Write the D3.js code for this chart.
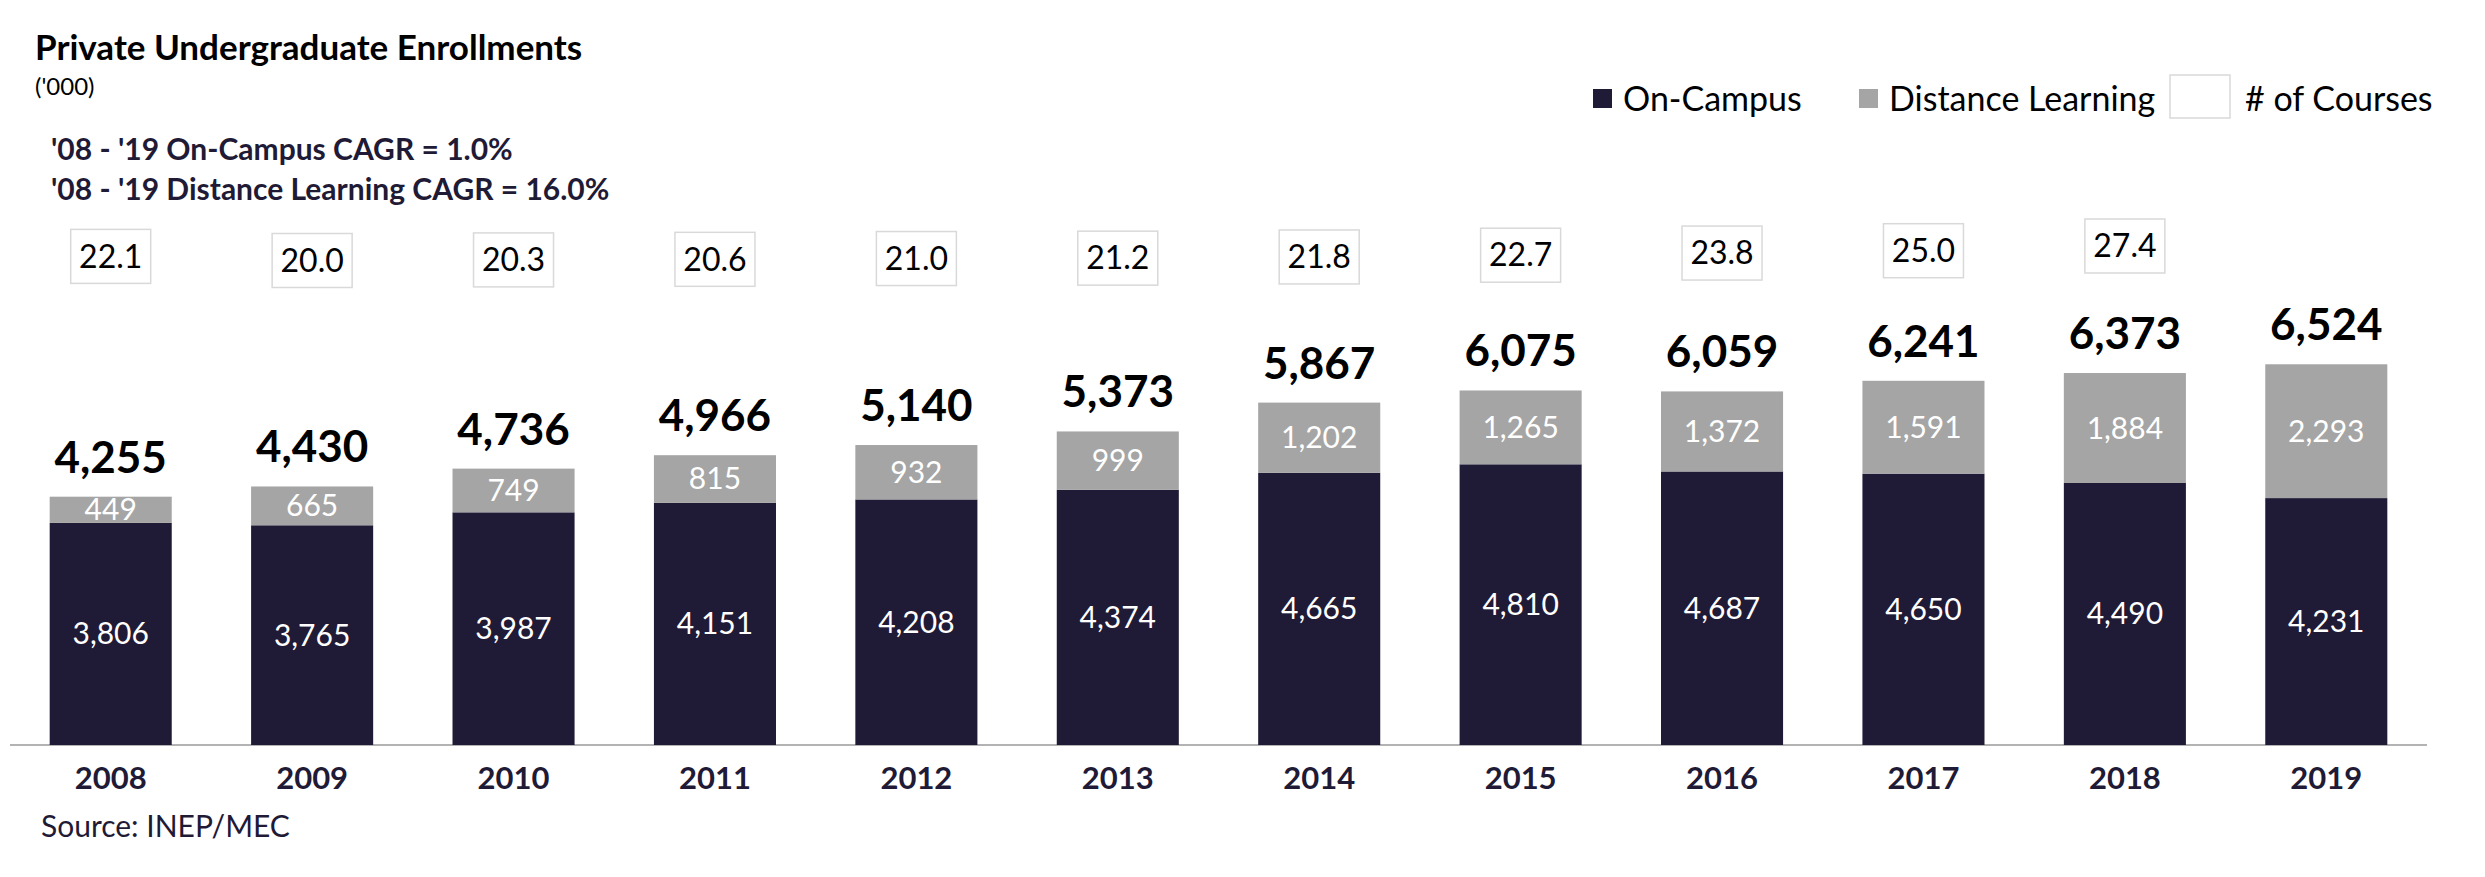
<!DOCTYPE html>
<html>
<head>
<meta charset="utf-8">
<script src="https://cdn.jsdelivr.net/npm/d3@7"></script>
<style>
  body { margin: 0; background: #fff; }
  svg text { font-family: Lato, "Open Sans", sans-serif; }
</style>
</head>
<body>
<svg id="chart" width="2485" height="877"></svg>
<script>
const years = ['2008', '2009', '2010', '2011', '2012', '2013', '2014', '2015', '2016', '2017', '2018', '2019'];
const onCampus = [3806, 3765, 3987, 4151, 4208, 4374, 4665, 4810, 4687, 4650, 4490, 4231];
const distance = [449, 665, 749, 815, 932, 999, 1202, 1265, 1372, 1591, 1884, 2293];
const totals = [4255, 4430, 4736, 4966, 5140, 5373, 5867, 6075, 6059, 6241, 6373, 6524];
const courses = [22.1, 20.0, 20.3, 20.6, 21.0, 21.2, 21.8, 22.7, 23.8, 25.0, 27.4, null];
const cagrLines = ["'08 - '19 On-Campus CAGR = 1.0%", "'08 - '19 Distance Learning CAGR = 16.0%"];

const navy = '#1f1a36';
const gray = '#a5a5a5';

const svg = d3.select('#chart');

// Scales
const x = d3.scaleBand().domain(years).range([10, 2427]).paddingInner(0.394).paddingOuter(0.197);
const y = d3.scaleLinear().domain([0, 7000]).range([745, 336.5]);
// # of courses sits on its own hidden axis above the bars
const yc = d3.scaleLinear().domain([20, 30]).range([260.5, 240.9]);

const rows = years.map((yr, i) => ({
  year: yr, on: onCampus[i], dist: distance[i], total: totals[i], courses: courses[i]
}));

// Axis baseline
svg.append('line')
  .attr('x1', x.range()[0]).attr('x2', x.range()[1])
  .attr('y1', y(0)).attr('y2', y(0))
  .attr('stroke', '#9a9a9a').attr('stroke-width', 1.5);

// On-campus bars
svg.selectAll('.bar-on')
  .data(rows)
  .join('rect')
  .attr('class', 'bar-on')
  .attr('x', d => x(d.year))
  .attr('width', x.bandwidth())
  .attr('y', d => y(d.on))
  .attr('height', d => y(0) - y(d.on))
  .attr('fill', navy);

// Distance bars stacked on top
svg.selectAll('.bar-dist')
  .data(rows)
  .join('rect')
  .attr('class', 'bar-dist')
  .attr('x', d => x(d.year))
  .attr('width', x.bandwidth())
  .attr('y', d => y(d.on + d.dist))
  .attr('height', d => y(d.on) - y(d.on + d.dist))
  .attr('fill', gray);

const fmt = d3.format(',');

// Segment labels
svg.selectAll('.lbl-on')
  .data(rows)
  .join('text')
  .attr('x', d => x(d.year) + x.bandwidth() / 2)
  .attr('y', d => (y(0) + y(d.on)) / 2)
  .attr('dy', '0.35em')
  .attr('text-anchor', 'middle')
  .attr('fill', '#fff')
  .attr('font-size', 30)
  .text(d => fmt(d.on));

svg.selectAll('.lbl-dist')
  .data(rows)
  .join('text')
  .attr('x', d => x(d.year) + x.bandwidth() / 2)
  .attr('y', d => (y(d.on) + y(d.on + d.dist)) / 2)
  .attr('dy', '0.35em')
  .attr('text-anchor', 'middle')
  .attr('fill', '#fff')
  .attr('font-size', 30)
  .text(d => fmt(d.dist));

// Totals
svg.selectAll('.lbl-total')
  .data(rows)
  .join('text')
  .attr('x', d => x(d.year) + x.bandwidth() / 2)
  .attr('y', d => y(d.on + d.dist) - 24)
  .attr('text-anchor', 'middle')
  .attr('fill', '#000')
  .attr('font-weight', 'bold')
  .attr('font-size', 44)
  .text(d => fmt(d.total));

// Course count boxes
const cg = svg.selectAll('.course')
  .data(rows.filter(d => d.courses != null))
  .join('g')
  .attr('class', 'course')
  .attr('transform', d => `translate(${x(d.year) + x.bandwidth() / 2},${yc(d.courses)})`);

cg.append('rect')
  .attr('x', -40).attr('y', -27).attr('width', 80).attr('height', 54)
  .attr('fill', '#fff').attr('stroke', '#d9d9d9').attr('stroke-width', 1.5);

cg.append('text')
  .attr('text-anchor', 'middle')
  .attr('dy', '0.35em')
  .attr('font-size', 32)
  .attr('fill', '#000')
  .text(d => d.courses.toFixed(1));

// Year labels
svg.append('g')
  .attr('transform', `translate(0,${y(0)})`)
  .call(d3.axisBottom(x).tickSize(0).tickPadding(22))
  .call(g => g.select('.domain').remove())
  .selectAll('text')
  .attr('font-family', 'Lato, sans-serif')
  .attr('font-size', 31)
  .attr('font-weight', 'bold')
  .attr('fill', navy);

// Title block
svg.append('text')
  .attr('x', 35).attr('y', 60)
  .attr('font-size', 35).attr('font-weight', 'bold').attr('fill', '#000')
  .text('Private Undergraduate Enrollments');

svg.append('text')
  .attr('x', 35).attr('y', 95)
  .attr('font-size', 24).attr('fill', '#000')
  .text("('000)");

svg.selectAll('.cagr')
  .data(cagrLines)
  .join('text')
  .attr('x', 51)
  .attr('y', (d, i) => 160 + i * 40)
  .attr('font-size', 30).attr('font-weight', 'bold').attr('fill', navy)
  .text(d => d);

// Legend
const legend = svg.append('g').attr('font-size', 34).attr('fill', '#000');
legend.append('rect').attr('x', 1593).attr('y', 89).attr('width', 19).attr('height', 19).attr('fill', navy);
legend.append('text').attr('x', 1623).attr('y', 111).text('On-Campus');
legend.append('rect').attr('x', 1859).attr('y', 89).attr('width', 19).attr('height', 19).attr('fill', gray);
legend.append('text').attr('x', 1889).attr('y', 111).text('Distance Learning');
legend.append('rect').attr('x', 2170).attr('y', 75).attr('width', 60).attr('height', 43)
  .attr('fill', '#fff').attr('stroke', '#d9d9d9').attr('stroke-width', 1.5);
legend.append('text').attr('x', 2245).attr('y', 111).text('# of Courses');

// Source
svg.append('text')
  .attr('x', 41).attr('y', 837)
  .attr('font-size', 30).attr('fill', navy)
  .text('Source: INEP/MEC');
</script>
</body>
</html>
